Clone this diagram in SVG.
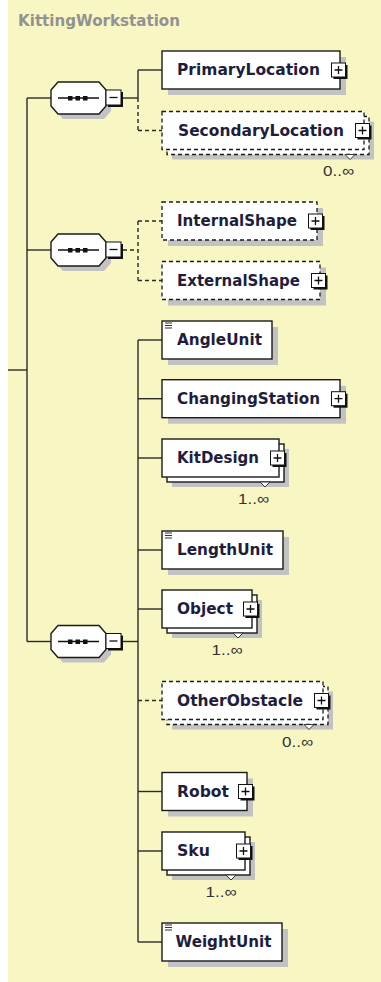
<svg xmlns="http://www.w3.org/2000/svg" width="381" height="982" viewBox="0 0 381 982">
<style>
.bg{fill:#f8f6c2}
.title{font-family:"DejaVu Sans",Verdana,sans-serif;font-weight:bold;font-size:15px;fill:#929292}
.lbl{font-family:"DejaVu Sans",Verdana,sans-serif;font-weight:bold;font-size:15px;fill:#1e1e3c}
.mult{font-family:"Liberation Sans",Arial,sans-serif;font-size:15px;fill:#333333}
.box{fill:#ffffff;stroke:#1a1a1a;stroke-width:1.4}
.dbox{fill:#ffffff;stroke:#1a1a1a;stroke-width:1.3;stroke-dasharray:4 3}
.shd{fill:#c2c2c2}
.pb{fill:#ffffff;stroke:#111111;stroke-width:1}
.pbs{fill:#111111}
.sym{stroke:#111111;stroke-width:1.3;fill:none}
.ln{stroke:#2a2a2a;stroke-width:1.4;fill:none}
.dl{stroke:#2a2a2a;stroke-width:1.4;fill:none;stroke-dasharray:4 3}
.ico{stroke:#333333;stroke-width:1.2}
.notch{fill:#ffffff;stroke:#333333;stroke-width:1}
.hex{fill:#ffffff;stroke:#1a1a1a;stroke-width:1.4}
</style>
<rect x="0" y="0" width="381" height="982" fill="#ffffff"/>
<rect class="bg" x="8" y="0" width="373" height="982"/>
<text class="title" x="18" y="26" textLength="162" lengthAdjust="spacingAndGlyphs">KittingWorkstation</text>

<g id="connectors">
  <line class="ln" x1="8" y1="370" x2="27" y2="370"/>
  <line class="ln" x1="27" y1="98" x2="27" y2="641.5"/>
  <line class="ln" x1="27" y1="98" x2="51" y2="98"/>
  <line class="ln" x1="27" y1="250" x2="51" y2="250"/>
  <line class="ln" x1="27" y1="641.5" x2="51" y2="641.5"/>
  <line class="ln" x1="123" y1="98" x2="138" y2="98"/>
  <line class="ln" x1="138" y1="70" x2="138" y2="98"/>
  <line class="dl" x1="138" y1="98" x2="138" y2="130.5"/>
  <line class="ln" x1="138" y1="70" x2="162" y2="70"/>
  <line class="dl" x1="138" y1="130.5" x2="162" y2="130.5"/>
  <line class="dl" x1="123" y1="250" x2="138" y2="250"/>
  <line class="dl" x1="138" y1="221" x2="138" y2="280.5"/>
  <line class="dl" x1="138" y1="221" x2="162" y2="221"/>
  <line class="dl" x1="138" y1="280.5" x2="162" y2="280.5"/>
  <line class="ln" x1="123" y1="641.5" x2="138" y2="641.5"/>
  <line class="ln" x1="138" y1="340" x2="138" y2="942"/>
  <line class="ln" x1="138" y1="340" x2="162" y2="340"/>
  <line class="ln" x1="138" y1="398.7" x2="162" y2="398.7"/>
  <line class="ln" x1="138" y1="458" x2="162" y2="458"/>
  <line class="ln" x1="138" y1="550" x2="162" y2="550"/>
  <line class="ln" x1="138" y1="609" x2="162" y2="609"/>
  <line class="dl" x1="138" y1="700.5" x2="162" y2="700.5"/>
  <line class="ln" x1="138" y1="791.5" x2="162" y2="791.5"/>
  <line class="ln" x1="138" y1="851" x2="162" y2="851"/>
  <line class="ln" x1="138" y1="942" x2="162" y2="942"/>
</g>

<g id="seq1">
  <path class="shd" d="M63,87 L104,87 L111,95 L111,111 L104,119 L63,119 L56,111 L56,95 Z"/>
  <path class="hex" d="M58,82 L99,82 L106,90 L106,106 L99,114 L58,114 L51,106 L51,90 Z"/>
  <line class="sym" x1="58" y1="98" x2="99" y2="98"/>
  <rect x="68" y="96" width="4.5" height="4.5" fill="#111"/><rect x="75.5" y="96" width="4.5" height="4.5" fill="#111"/><rect x="83" y="96" width="4.5" height="4.5" fill="#111"/>
  <rect class="pbs" x="108" y="92" width="15" height="15"/>
  <rect class="pb" x="106" y="90" width="15" height="15"/>
  <line class="sym" x1="109.5" y1="97.5" x2="117.5" y2="97.5"/>
</g>
<g id="seq2">
  <path class="shd" d="M63,239 L104,239 L111,247 L111,263 L104,271 L63,271 L56,263 L56,247 Z"/>
  <path class="hex" d="M58,234 L99,234 L106,242 L106,258 L99,266 L58,266 L51,258 L51,242 Z"/>
  <line class="sym" x1="58" y1="250" x2="99" y2="250"/>
  <rect x="68" y="248" width="4.5" height="4.5" fill="#111"/><rect x="75.5" y="248" width="4.5" height="4.5" fill="#111"/><rect x="83" y="248" width="4.5" height="4.5" fill="#111"/>
  <rect class="pbs" x="108" y="244" width="15" height="15"/>
  <rect class="pb" x="106" y="242" width="15" height="15"/>
  <line class="sym" x1="109.5" y1="249.5" x2="117.5" y2="249.5"/>
</g>
<g id="seq3">
  <path class="shd" d="M63,630.5 L104,630.5 L111,638.5 L111,654.5 L104,662.5 L63,662.5 L56,654.5 L56,638.5 Z"/>
  <path class="hex" d="M58,625.5 L99,625.5 L106,633.5 L106,649.5 L99,657.5 L58,657.5 L51,649.5 L51,633.5 Z"/>
  <line class="sym" x1="58" y1="641.5" x2="99" y2="641.5"/>
  <rect x="68" y="639.5" width="4.5" height="4.5" fill="#111"/><rect x="75.5" y="639.5" width="4.5" height="4.5" fill="#111"/><rect x="83" y="639.5" width="4.5" height="4.5" fill="#111"/>
  <rect class="pbs" x="108" y="635.5" width="15" height="15"/>
  <rect class="pb" x="106" y="633.5" width="15" height="15"/>
  <line class="sym" x1="109.5" y1="641" x2="117.5" y2="641"/>
</g>

<g id="PrimaryLocation">
  <rect class="shd" x="168" y="57" width="178" height="38"/>
  <rect class="box" x="162" y="51" width="178" height="38"/>
  <text class="lbl" x="177" y="75" textLength="143" lengthAdjust="spacingAndGlyphs">PrimaryLocation</text>
  <rect class="pbs" x="333.5" y="65" width="14" height="14"/><rect class="pb" x="331.5" y="63" width="14" height="14"/>
  <path class="sym" d="M334.5,70 H342.5 M338.5,66 V74"/>
</g>
<g id="SecondaryLocation">
  <rect class="shd" x="172" y="121.5" width="202" height="38"/>
  <rect class="dbox" x="167" y="116.5" width="202" height="38"/>
  <rect class="dbox" x="162" y="111.5" width="202" height="38"/>
  <polygon class="notch" points="345,154.5 350,159.5 355,154.5"/>
  <text class="lbl" x="178" y="135.5" textLength="166" lengthAdjust="spacingAndGlyphs">SecondaryLocation</text>
  <rect class="pbs" x="357.5" y="125.5" width="14" height="14"/><rect class="pb" x="355.5" y="123.5" width="14" height="14"/>
  <path class="sym" d="M358.5,130.5 H366.5 M362.5,126.5 V134.5"/>
  <text class="mult" x="354" y="176" text-anchor="end" textLength="31" lengthAdjust="spacingAndGlyphs">0..∞</text>
</g>
<g id="InternalShape">
  <rect class="shd" x="168" y="208" width="155" height="38"/>
  <rect class="dbox" x="162" y="202" width="155" height="38"/>
  <text class="lbl" x="177" y="226" textLength="120" lengthAdjust="spacingAndGlyphs">InternalShape</text>
  <rect class="pbs" x="310.5" y="216" width="14" height="14"/><rect class="pb" x="308.5" y="214" width="14" height="14"/>
  <path class="sym" d="M311.5,221 H319.5 M315.5,217 V225"/>
</g>
<g id="ExternalShape">
  <rect class="shd" x="168" y="267.5" width="158" height="38"/>
  <rect class="dbox" x="162" y="261.5" width="158" height="38"/>
  <text class="lbl" x="177" y="285.5" textLength="123" lengthAdjust="spacingAndGlyphs">ExternalShape</text>
  <rect class="pbs" x="313.5" y="275.5" width="14" height="14"/><rect class="pb" x="311.5" y="273.5" width="14" height="14"/>
  <path class="sym" d="M314.5,280.5 H322.5 M318.5,276.5 V284.5"/>
</g>
<g id="AngleUnit">
  <rect class="shd" x="168" y="327" width="110" height="38"/>
  <rect class="box" x="162" y="321" width="110" height="38"/>
  <path class="ico" d="M165,323 H172 M165,325.5 H172 M165,328 H172"/>
  <text class="lbl" x="177" y="345" textLength="85" lengthAdjust="spacingAndGlyphs">AngleUnit</text>
</g>
<g id="ChangingStation">
  <rect class="shd" x="168" y="385.7" width="178" height="38"/>
  <rect class="box" x="162" y="379.7" width="178" height="38"/>
  <text class="lbl" x="177" y="403.7" textLength="143" lengthAdjust="spacingAndGlyphs">ChangingStation</text>
  <rect class="pbs" x="333.5" y="393.7" width="14" height="14"/><rect class="pb" x="331.5" y="391.7" width="14" height="14"/>
  <path class="sym" d="M334.5,398.7 H342.5 M338.5,394.7 V402.7"/>
</g>
<g id="KitDesign">
  <rect class="shd" x="172" y="449" width="117" height="38"/>
  <rect class="box" x="167" y="444" width="117" height="38"/>
  <rect class="box" x="162" y="439" width="117" height="38"/>
  <polygon class="notch" points="260,482 265,487 270,482"/>
  <text class="lbl" x="177" y="463" textLength="82" lengthAdjust="spacingAndGlyphs">KitDesign</text>
  <rect class="pbs" x="272.5" y="453" width="14" height="14"/><rect class="pb" x="270.5" y="451" width="14" height="14"/>
  <path class="sym" d="M273.5,458 H281.5 M277.5,454 V462"/>
  <text class="mult" x="269" y="504" text-anchor="end" textLength="31" lengthAdjust="spacingAndGlyphs">1..∞</text>
</g>
<g id="LengthUnit">
  <rect class="shd" x="168" y="537" width="121" height="38"/>
  <rect class="box" x="162" y="531" width="121" height="38"/>
  <path class="ico" d="M165,533 H172 M165,535.5 H172 M165,538 H172"/>
  <text class="lbl" x="177" y="555" textLength="96" lengthAdjust="spacingAndGlyphs">LengthUnit</text>
</g>
<g id="Object">
  <rect class="shd" x="172" y="600" width="90" height="38"/>
  <rect class="box" x="167" y="595" width="90" height="38"/>
  <rect class="box" x="162" y="590" width="90" height="38"/>
  <polygon class="notch" points="233,633 238,638 243,633"/>
  <text class="lbl" x="177" y="614" textLength="56" lengthAdjust="spacingAndGlyphs">Object</text>
  <rect class="pbs" x="245.5" y="604" width="14" height="14"/><rect class="pb" x="243.5" y="602" width="14" height="14"/>
  <path class="sym" d="M246.5,609 H254.5 M250.5,605 V613"/>
  <text class="mult" x="242.5" y="655" text-anchor="end" textLength="31" lengthAdjust="spacingAndGlyphs">1..∞</text>
</g>
<g id="OtherObstacle">
  <rect class="shd" x="172" y="691.5" width="161" height="38"/>
  <rect class="dbox" x="167" y="686.5" width="161" height="38"/>
  <rect class="dbox" x="162" y="681.5" width="161" height="38"/>
  <polygon class="notch" points="304,724.5 309,729.5 314,724.5"/>
  <text class="lbl" x="177" y="705.5" textLength="126" lengthAdjust="spacingAndGlyphs">OtherObstacle</text>
  <rect class="pbs" x="316.5" y="695.5" width="14" height="14"/><rect class="pb" x="314.5" y="693.5" width="14" height="14"/>
  <path class="sym" d="M317.5,700.5 H325.5 M321.5,696.5 V704.5"/>
  <text class="mult" x="313" y="747" text-anchor="end" textLength="31" lengthAdjust="spacingAndGlyphs">0..∞</text>
</g>
<g id="Robot">
  <rect class="shd" x="168" y="778.5" width="85" height="38"/>
  <rect class="box" x="162" y="772.5" width="85" height="38"/>
  <text class="lbl" x="177" y="796.5" textLength="52" lengthAdjust="spacingAndGlyphs">Robot</text>
  <rect class="pbs" x="240.5" y="786.5" width="14" height="14"/><rect class="pb" x="238.5" y="784.5" width="14" height="14"/>
  <path class="sym" d="M241.5,791.5 H249.5 M245.5,787.5 V795.5"/>
</g>
<g id="Sku">
  <rect class="shd" x="172" y="842" width="83" height="38"/>
  <rect class="box" x="167" y="837" width="83" height="38"/>
  <rect class="box" x="162" y="832" width="83" height="38"/>
  <polygon class="notch" points="226,875 231,880 236,875"/>
  <text class="lbl" x="177" y="856" textLength="33" lengthAdjust="spacingAndGlyphs">Sku</text>
  <rect class="pbs" x="238.5" y="846" width="14" height="14"/><rect class="pb" x="236.5" y="844" width="14" height="14"/>
  <path class="sym" d="M239.5,851 H247.5 M243.5,847 V855"/>
  <text class="mult" x="236.5" y="897" text-anchor="end" textLength="31" lengthAdjust="spacingAndGlyphs">1..∞</text>
</g>
<g id="WeightUnit">
  <rect class="shd" x="168" y="929" width="120" height="38"/>
  <rect class="box" x="162" y="923" width="120" height="38"/>
  <path class="ico" d="M165,925 H172 M165,927.5 H172 M165,930 H172"/>
  <text class="lbl" x="175.5" y="947" textLength="96" lengthAdjust="spacingAndGlyphs">WeightUnit</text>
</g>
</svg>
